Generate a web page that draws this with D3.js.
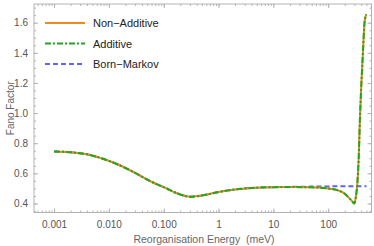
<!DOCTYPE html>
<html>
<head>
<meta charset="utf-8">
<script src="https://cdn.jsdelivr.net/npm/d3@7"></script>
<style>
  body { margin: 0; background: #fff; }
  text { font-family: "Liberation Sans", Arial, sans-serif; }
</style>
</head>
<body>
<div id="chart"></div>
<script>
// reorganisation energy (meV) and Fano factor
const energy = [0.001, 0.002, 0.004, 0.008, 0.015, 0.03, 0.06, 0.1, 0.2, 0.3, 0.5, 1, 2, 5, 10, 20, 50,
    100, 150, 200, 250, 280, 300, 320, 340, 360, 380, 400, 430, 460, 480, 500];
const nonAdditive = [0.745, 0.740, 0.726, 0.695, 0.657, 0.603, 0.544, 0.508, 0.460, 0.445, 0.453, 0.476, 0.493, 0.505, 0.508, 0.509, 0.507,
    0.499, 0.487, 0.465, 0.430, 0.410, 0.400, 0.445, 0.530, 0.700, 0.970, 1.170, 1.400, 1.600, 1.640, 1.655];
const additive = [0.745, 0.740, 0.726, 0.695, 0.657, 0.603, 0.544, 0.508, 0.460, 0.445, 0.453, 0.476, 0.493, 0.505, 0.508, 0.509, 0.507,
    0.499, 0.487, 0.465, 0.430, 0.410, 0.400, 0.445, 0.530, 0.700, 0.970, 1.170, 1.400, 1.600, 1.640, 1.655];
const bornMarkov = [0.745, 0.740, 0.726, 0.695, 0.657, 0.603, 0.544, 0.508, 0.460, 0.445, 0.453, 0.476, 0.493, 0.505, 0.508, 0.510, 0.512,
    0.513, 0.514, 0.514, 0.514, 0.514, 0.514, 0.514, 0.514, 0.514, 0.514, 0.514, 0.514, 0.514, 0.514, 0.514];
const xTicks = [0.001, 0.01, 0.1, 1, 10, 100];
const xTickLabels = ["0.001", "0.010", "0.100", "1", "10", "100"];
const yTicks = [0.4, 0.6, 0.8, 1.0, 1.2, 1.4, 1.6];
const seriesNames = ["Non\u2212Additive", "Additive", "Born\u2212Markov"];

const width = 374, height = 246;
const mLeft = 34, mRight = 371.5, mTop = 4, mBottom = 212.5;

const svg = d3.select("#chart").append("svg")
    .attr("width", width).attr("height", height);

const x = d3.scaleLog().domain([Math.pow(10, -3.366), Math.pow(10, 2.79)]).range([mLeft, mRight]);
const y = d3.scaleLinear().domain([0.34, 1.724]).range([mBottom, mTop]);

// minor ticks
let minorX = [];
for (let e = -4; e <= 2; e++) {
    for (let m = 1; m < 10; m++) {
        let v = m * Math.pow(10, e);
        if (v > x.domain()[0] && v < x.domain()[1]) minorX.push(v);
    }
}
let minorY = d3.range(0.35, 1.72, 0.05);

const frameColor = "#b3b3b3";
const axes = svg.append("g");

axes.append("g").attr("transform", `translate(0,${mBottom})`)
    .call(d3.axisBottom(x).tickValues(minorX).tickSize(-2).tickFormat(""));
axes.append("g").attr("transform", `translate(0,${mBottom})`)
    .call(d3.axisBottom(x).tickValues(xTicks).tickSize(-4).tickPadding(8)
        .tickFormat((d, i) => xTickLabels[i]));
axes.append("g").attr("transform", `translate(0,${mTop})`)
    .call(d3.axisTop(x).tickValues(minorX).tickSize(-2).tickFormat(""));
axes.append("g").attr("transform", `translate(0,${mTop})`)
    .call(d3.axisTop(x).tickValues(xTicks).tickSize(-4).tickFormat(""));
axes.append("g").attr("transform", `translate(${mLeft},0)`)
    .call(d3.axisLeft(y).tickValues(minorY).tickSize(-2).tickFormat(""));
axes.append("g").attr("transform", `translate(${mLeft},0)`)
    .call(d3.axisLeft(y).tickValues(yTicks).tickSize(-4).tickPadding(6).tickFormat(d3.format(".1f")));
axes.append("g").attr("transform", `translate(${mRight},0)`)
    .call(d3.axisRight(y).tickValues(minorY).tickSize(-2).tickFormat(""));
axes.append("g").attr("transform", `translate(${mRight},0)`)
    .call(d3.axisRight(y).tickValues(yTicks).tickSize(-4).tickFormat(""));

axes.selectAll(".domain").remove();
axes.selectAll("line").attr("stroke", frameColor);
axes.selectAll("text").attr("fill", "#555").attr("font-size", 10);

svg.append("rect")
    .attr("x", mLeft).attr("y", mTop)
    .attr("width", mRight - mLeft).attr("height", mBottom - mTop)
    .attr("fill", "none").attr("stroke", frameColor).attr("stroke-width", 1);

svg.append("text")
    .attr("x", 204).attr("y", 243)
    .attr("text-anchor", "middle").attr("font-size", 10.5).attr("fill", "#666")
    .style("white-space", "pre")
    .text("Reorganisation Energy  (meV)");
svg.append("text")
    .attr("transform", `translate(14,${(mTop + mBottom) / 2}) rotate(-90)`)
    .attr("text-anchor", "middle").attr("font-size", 10).attr("fill", "#666")
    .text("Fano Factor");

const line = d3.line().curve(d3.curveMonotoneX);
const pts = arr => energy.map((e, i) => [x(e), y(arr[i])]);

const styles = [
    { color: "#f08a1c", dash: null },
    { color: "#1ea81e", dash: "6,2,2,2" },
    { color: "#6060ff", dash: "5,3" }
];

// Born-Markov underneath, then non-additive, additive on top
svg.append("path").attr("d", line(pts(bornMarkov)))
    .attr("fill", "none").attr("stroke", styles[2].color).attr("stroke-width", 2)
    .attr("stroke-dasharray", styles[2].dash);
svg.append("path").attr("d", line(pts(nonAdditive)))
    .attr("fill", "none").attr("stroke", styles[0].color).attr("stroke-width", 2);
svg.append("path").attr("d", line(pts(additive)))
    .attr("fill", "none").attr("stroke", styles[1].color).attr("stroke-width", 2)
    .attr("stroke-dasharray", styles[1].dash);

const legend = svg.append("g");
seriesNames.forEach((name, i) => {
    let ly = 23 + i * 20.5;
    legend.append("line")
        .attr("x1", 45).attr("x2", 85).attr("y1", ly).attr("y2", ly)
        .attr("stroke", styles[i].color).attr("stroke-width", 2)
        .attr("stroke-dasharray", styles[i].dash);
    legend.append("text")
        .attr("x", 93).attr("y", ly + 4)
        .attr("font-size", 11).attr("fill", "#222")
        .text(name);
});
</script>
</body>
</html>
